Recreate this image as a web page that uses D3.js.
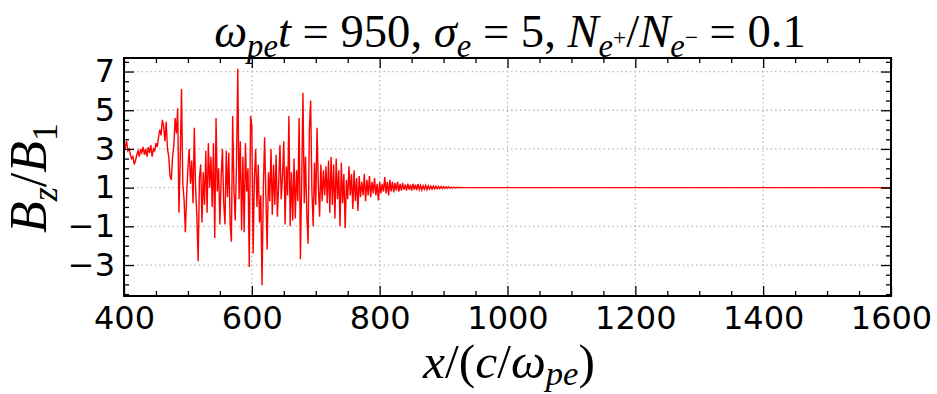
<!DOCTYPE html>
<html>
<head>
<meta charset="utf-8">
<script src="https://cdn.jsdelivr.net/npm/d3@7"></script>
<style>
  html, body { margin: 0; padding: 0; background: #fff; }
  svg { display: block; }
  .tick text { font-family: "DejaVu Sans", sans-serif; font-size: 32px; fill: #000; }
</style>
</head>
<body>
<svg id="chart" width="937" height="394"></svg>
<script>
// B_z / B_1 profile sampled every 2 c/omega_pe starting at x = 400
const xStart = 400;
const xStep = 2;
const bz = [
  3.3, 3.1, 3.4, 2.9, 3.0, 2.7, 2.5, 2.6, 2.2, 2.4,
  2.7, 2.9, 2.6, 3.0, 2.8, 3.1, 2.7, 3.0, 2.6, 3.1,
  2.8, 3.2, 2.6, 3.0, 2.9, 3.3, 3.1, 3.6, 4.0, 3.7,
  4.5, 4.2, 3.4, 4.4, 3.0, 2.6, 1.6, 1.4, 2.6, 3.2,
  4.6, 3.8, 5.1, -0.3, 2.5, 6.1, 1.2, 0.4, -1.3, 0.6,
  2.0, 3.0, 1.2, 2.4, 0.2, 4.1, 1.0, -0.5, -2.8, 1.5,
  2.2, -0.8, 1.8, 0.1, 2.9, -0.3, 3.3, 1.0, 2.6, 0.0,
  3.3, -1.6, 4.6, 0.8, 2.0, -0.9, 1.5, 3.0, 0.2, -0.9,
  2.9, 0.5, 2.8, -0.8, -1.8, 4.7, 0.9, -0.7, 2.2, 7.15,
  0.4, 3.4, -1.2, 2.6, -1.3, 3.3, 0.8, 2.0, -3.1, 4.7,
  4.2, -2.4, 1.5, 3.0, 0.0, 2.2, -0.8, 0.6, -4.05, 1.0,
  3.6, 0.5, -2.2, 1.8, 0.3, 3.0, -0.4, 2.2, 0.1, 2.7,
  -0.5, 1.2, 3.2, 0.4, 1.6, 3.4, -0.9, 2.1, 0.6, 4.7,
  -1.0, 1.8, -0.7, 2.5, -0.6, 1.9, 0.3, 4.6, -2.7, 1.4,
  5.9, 0.2, 2.6, -0.4, -1.9, 4.0, 5.5, 0.8, -1.0, 2.3,
  0.1, 4.1, 1.2, -0.5, 2.2, 0.3, 1.9, 0.6, 2.1, 0.2,
  2.4, -0.3, 2.6, 0.1, 2.2, -0.6, 2.5, 0.4, 1.9, -1.0,
  2.3, 0.2, 1.7, -1.1, 1.4, 0.4, 2.1, 0.6, 1.7, -0.1,
  1.9, 0.3, 1.5, -0.2, 1.6, 0.5, 1.3, 0.6, 1.7, 0.3,
  1.4, 0.6, 1.6, 0.5, 1.3, 0.7, 1.5, 0.6, 1.2, 0.34,
  1.3, 0.7, 1.2, 0.8, 1.55, 0.7, 1.3, 0.6, 1.4, 0.8,
  1.3, 0.75, 1.25, 0.85, 1.3, 0.8, 1.2, 0.85, 1.25, 0.9,
  1.15, 0.85, 1.2, 0.9, 1.15, 0.85, 1.2, 0.9, 1.15, 0.88,
  1.18, 0.9, 1.12, 0.88, 1.1, 0.92, 1.12, 0.9, 1.1, 0.93,
  1.08, 0.92, 1.08, 0.94, 1.07, 0.94, 1.06, 0.95, 1.06, 0.96,
  1.05, 0.96, 1.04, 0.97, 1.04, 0.97, 1.03, 0.98, 1.03, 0.98,
  1.02, 0.99, 1.02, 0.99, 1.01, 1.0
];
// undisturbed upstream field out to the end of the box
const tailX = [1600];
const tailBz = [1.0];

const xMajorTicks = [400, 600, 800, 1000, 1200, 1400, 1600];
const yMajorTicks = [-3, -1, 1, 3, 5, 7];
const xDomain = [400, 1600];
const yDomain = [-4.6, 7.7];

const plot = { left: 124, right: 891, top: 58, bottom: 296 };

const svg = d3.select("#chart");
const x = d3.scaleLinear().domain(xDomain).range([plot.left, plot.right]);
const y = d3.scaleLinear().domain(yDomain).range([plot.bottom, plot.top]);

const points = bz.map((v, i) => [xStart + i * xStep, v])
  .concat(tailX.map((xv, i) => [xv, tailBz[i]]));

const xMinor = d3.range(xDomain[0], xDomain[1] + 1, 50).filter(v => !xMajorTicks.includes(v));
const yMinor = d3.range(-4.5, 7.6, 0.5).filter(v => !yMajorTicks.includes(v));

// dotted grid
const grid = svg.append("g").attr("stroke", "#b0b0b0").attr("stroke-width", 1.3)
  .attr("stroke-dasharray", "1.3,3.1");
grid.selectAll(".gx").data(xMajorTicks.slice(1, -1)).join("line")
  .attr("x1", d => x(d)).attr("x2", d => x(d))
  .attr("y1", plot.top).attr("y2", plot.bottom);
grid.selectAll(".gy").data(yMajorTicks).join("line")
  .attr("x1", plot.left).attr("x2", plot.right)
  .attr("y1", d => y(d)).attr("y2", d => y(d));

// signal
svg.append("clipPath").attr("id", "clip").append("rect")
  .attr("x", plot.left).attr("y", plot.top)
  .attr("width", plot.right - plot.left).attr("height", plot.bottom - plot.top);
svg.append("path")
  .datum(points)
  .attr("clip-path", "url(#clip)")
  .attr("fill", "none")
  .attr("stroke", "#ff0000")
  .attr("stroke-width", 1.4)
  .attr("stroke-linejoin", "miter")
  .attr("d", d3.line().x(d => x(d[0])).y(d => y(d[1])));

// axes with inward ticks on all four sides
function styleAxis(g) {
  g.select(".domain").remove();
  g.selectAll(".tick line").attr("stroke", "#000").attr("stroke-width", 1.3);
}
const fmt = d => d < 0 ? "\u2212" + Math.abs(d) : String(d);

svg.append("g").attr("transform", `translate(0,${plot.bottom})`)
  .call(d3.axisBottom(x).tickValues(xMajorTicks).tickSize(-10).tickPadding(10).tickFormat(fmt))
  .call(styleAxis);
svg.append("g").attr("transform", `translate(0,${plot.bottom})`)
  .call(d3.axisBottom(x).tickValues(xMinor).tickSize(-5).tickFormat(""))
  .call(styleAxis);
svg.append("g").attr("transform", `translate(0,${plot.top})`)
  .call(d3.axisTop(x).tickValues(xMajorTicks).tickSize(-10).tickFormat(""))
  .call(styleAxis);
svg.append("g").attr("transform", `translate(0,${plot.top})`)
  .call(d3.axisTop(x).tickValues(xMinor).tickSize(-5).tickFormat(""))
  .call(styleAxis);

svg.append("g").attr("transform", `translate(${plot.left},0)`)
  .call(d3.axisLeft(y).tickValues(yMajorTicks).tickSize(-10).tickPadding(9).tickFormat(fmt))
  .call(styleAxis);
svg.append("g").attr("transform", `translate(${plot.left},0)`)
  .call(d3.axisLeft(y).tickValues(yMinor).tickSize(-5).tickFormat(""))
  .call(styleAxis);
svg.append("g").attr("transform", `translate(${plot.right},0)`)
  .call(d3.axisRight(y).tickValues(yMajorTicks).tickSize(-10).tickFormat(""))
  .call(styleAxis);
svg.append("g").attr("transform", `translate(${plot.right},0)`)
  .call(d3.axisRight(y).tickValues(yMinor).tickSize(-5).tickFormat(""))
  .call(styleAxis);

// frame
svg.append("rect")
  .attr("x", plot.left).attr("y", plot.top)
  .attr("width", plot.right - plot.left).attr("height", plot.bottom - plot.top)
  .attr("fill", "none").attr("stroke", "#000").attr("stroke-width", 2);

// math-style text: each part is [text, italic, level] with level
// 0 = baseline, 1 = subscript, 2 = superscript on a subscript.
// The font size is scaled so that the whole expression spans `width` pixels.
function mathText(sel, parts, size, width, subDrop = 0.22) {
  const family = '"Liberation Serif", "Times New Roman", serif';
  sel.style("font-family", family).style("fill", "#000");
  const offs = [0, subDrop, -0.05];
  const scale = [1, 0.7, 0.5];
  function build(s) {
    sel.selectAll("tspan").remove();
    let cur = 0;
    parts.forEach(([t, it, lvl]) => {
      const target = offs[lvl] * s;
      sel.append("tspan")
        .attr("dy", target - cur)
        .style("font-style", it ? "italic" : "normal")
        .style("font-size", (s * scale[lvl]) + "px")
        .style("font-family", family)
        .text(t);
      cur = target;
    });
  }
  build(size);
  const w = sel.node().getComputedTextLength();
  if (width && w > 0) build(size * width / w);
  return sel;
}

mathText(svg.append("text")
    .attr("x", 510).attr("y", 47).attr("text-anchor", "middle"),
  [["\u03c9", true, 0], ["pe", true, 1], ["t", true, 0], [" = 950, ", false, 0],
   ["\u03c3", true, 0], ["e", true, 1], [" = 5, ", false, 0],
   ["N", true, 0], ["e", true, 1], ["+", false, 2], ["/", false, 0],
   ["N", true, 0], ["e", true, 1], ["\u2212", false, 2], [" = 0.1", false, 0]], 38, 592);

mathText(svg.append("text")
    .attr("x", 509).attr("y", 378).attr("text-anchor", "middle"),
  [["x", true, 0], ["/(", false, 0], ["c", true, 0], ["/", false, 0],
   ["\u03c9", true, 0], ["pe", true, 1], [")", false, 0]], 40, 172, 0.14);

mathText(svg.append("text")
    .attr("transform", "translate(46,178) rotate(-90)").attr("text-anchor", "middle"),
  [["B", true, 0], ["z", true, 1], ["/", false, 0], ["B", true, 0], ["1", false, 1]], 42, 110);
</script>
</body>
</html>
